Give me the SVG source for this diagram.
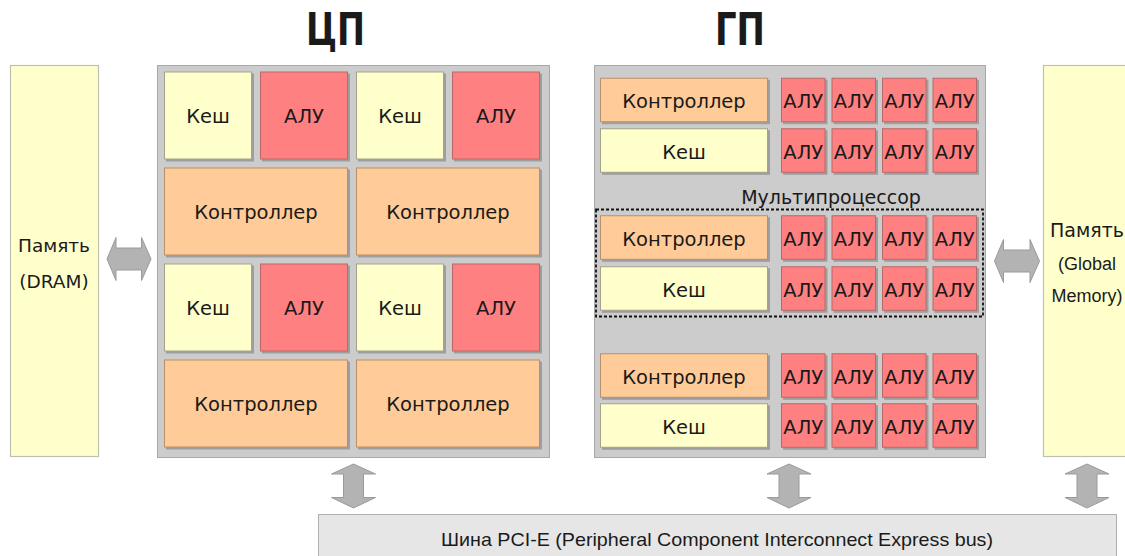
<svg xmlns="http://www.w3.org/2000/svg" width="1125" height="556" viewBox="0 0 1125 556">
<defs>
<filter id="sh" x="-10%" y="-10%" width="130%" height="130%">
<feDropShadow dx="2" dy="2" stdDeviation="0.6" flood-color="#8a8a8a" flood-opacity="0.7"/>
</filter>
<style>
.blk{fill:#cccccc;stroke:#a8a8a8;stroke-width:1}
.mem{fill:#ffffcc;stroke:#c0c0b0;stroke-width:1.2}
.k{fill:#ffffcc;stroke:#a3a38a;stroke-width:1;filter:url(#sh)}
.a{fill:#ff8080;stroke:#b86a6a;stroke-width:1;filter:url(#sh)}
.c{fill:#ffcc99;stroke:#b8906a;stroke-width:1;filter:url(#sh)}
.t{font-family:"DejaVu Sans",sans-serif;font-size:19.5px;fill:#1a1a1a;text-anchor:middle}
.ta{font-family:"DejaVu Sans",sans-serif;font-size:19.5px;fill:#1a1a1a;text-anchor:middle}
.m{font-family:"DejaVu Sans",sans-serif;font-size:18.5px;fill:#1a1a1a;text-anchor:middle}
.ar{font-family:"Liberation Sans",Arial,sans-serif;font-size:18px;fill:#1a1a1a;text-anchor:middle}
.ttl{font-family:"DejaVu Sans",sans-serif;font-weight:bold;font-size:44px;fill:#1a1a1a;text-anchor:middle}
.arrow{fill:#b3b3b3;stroke:#9a9a9a;stroke-width:1}
</style>
</defs>
<rect width="1125" height="556" fill="#ffffff"/>

<g id="titles">
<text class="ttl" x="335.5" y="45" textLength="59" lengthAdjust="spacingAndGlyphs">ЦП</text>
<text class="ttl" x="740" y="45" textLength="50" lengthAdjust="spacingAndGlyphs">ГП</text>
</g>

<g id="mem-dram">
<rect class="mem" x="10.5" y="65.5" width="88" height="391"/>
<text class="m" x="54" y="252">Память</text>
<text class="m" x="54" y="288">(DRAM)</text>
</g>

<g id="mem-global">
<rect class="mem" x="1043.5" y="65.5" width="88" height="391"/>
<text class="t" x="1087" y="237" style="font-size:19px">Память</text>
<text class="ar" x="1087" y="270">(Global</text>
<text class="ar" x="1087" y="302">Memory)</text>
</g>

<g id="cpu">
<rect class="blk" x="157.5" y="65.5" width="392" height="392"/>
<g id="cpu-k1"><rect class="k" x="164.5" y="72" width="87" height="87"/><text class="t" x="208" y="122.5">Кеш</text></g>
<g id="cpu-a1"><rect class="a" x="260.5" y="72" width="87" height="87"/><text class="t" x="304" y="122.5">АЛУ</text></g>
<g id="cpu-k2"><rect class="k" x="356.5" y="72" width="87" height="87"/><text class="t" x="400" y="122.5">Кеш</text></g>
<g id="cpu-a2"><rect class="a" x="452.5" y="72" width="87" height="87"/><text class="t" x="496" y="122.5">АЛУ</text></g>
<g id="cpu-c1"><rect class="c" x="164.5" y="168" width="183" height="87"/><text class="t" x="256" y="218.5">Контроллер</text></g>
<g id="cpu-c2"><rect class="c" x="356.5" y="168" width="183" height="87"/><text class="t" x="448" y="218.5">Контроллер</text></g>
<g id="cpu-k3"><rect class="k" x="164.5" y="264" width="87" height="87"/><text class="t" x="208" y="314.5">Кеш</text></g>
<g id="cpu-a3"><rect class="a" x="260.5" y="264" width="87" height="87"/><text class="t" x="304" y="314.5">АЛУ</text></g>
<g id="cpu-k4"><rect class="k" x="356.5" y="264" width="87" height="87"/><text class="t" x="400" y="314.5">Кеш</text></g>
<g id="cpu-a4"><rect class="a" x="452.5" y="264" width="87" height="87"/><text class="t" x="496" y="314.5">АЛУ</text></g>
<g id="cpu-c3"><rect class="c" x="164.5" y="360" width="183" height="87"/><text class="t" x="256" y="410.5">Контроллер</text></g>
<g id="cpu-c4"><rect class="c" x="356.5" y="360" width="183" height="87"/><text class="t" x="448" y="410.5">Контроллер</text></g>
</g>

<g id="gpu">
<rect class="blk" x="594.5" y="65.5" width="391" height="392"/>
<text class="t" x="831" y="204" style="font-size:19px">Мультипроцессор</text>
<rect x="596" y="209.5" width="387" height="107" fill="none" stroke="#111" stroke-width="1.8" stroke-dasharray="3,2"/>

<g id="gpu-c1"><rect class="c" x="600.5" y="78.25" width="167" height="43.5"/><text class="t" x="684" y="108">Контроллер</text></g>
<g id="gpu-k1"><rect class="k" x="600.5" y="128.75" width="167" height="43.5"/><text class="t" x="684" y="158.5">Кеш</text></g>
<g id="gpu-a1">
<rect class="a" x="781.5" y="78.25" width="43.5" height="43.5"/><text class="ta" x="803.25" y="108">АЛУ</text>
<rect class="a" x="832" y="78.25" width="43.5" height="43.5"/><text class="ta" x="853.75" y="108">АЛУ</text>
<rect class="a" x="882.5" y="78.25" width="43.5" height="43.5"/><text class="ta" x="904.25" y="108">АЛУ</text>
<rect class="a" x="933" y="78.25" width="43.5" height="43.5"/><text class="ta" x="954.75" y="108">АЛУ</text>
<rect class="a" x="781.5" y="128.75" width="43.5" height="43.5"/><text class="ta" x="803.25" y="158.5">АЛУ</text>
<rect class="a" x="832" y="128.75" width="43.5" height="43.5"/><text class="ta" x="853.75" y="158.5">АЛУ</text>
<rect class="a" x="882.5" y="128.75" width="43.5" height="43.5"/><text class="ta" x="904.25" y="158.5">АЛУ</text>
<rect class="a" x="933" y="128.75" width="43.5" height="43.5"/><text class="ta" x="954.75" y="158.5">АЛУ</text>
</g>

<g id="gpu-c2"><rect class="c" x="600.5" y="215.75" width="167" height="43.5"/><text class="t" x="684" y="245.5">Контроллер</text></g>
<g id="gpu-k2"><rect class="k" x="600.5" y="266.75" width="167" height="43.5"/><text class="t" x="684" y="296.5">Кеш</text></g>
<g id="gpu-a2">
<rect class="a" x="781.5" y="215.75" width="43.5" height="43.5"/><text class="ta" x="803.25" y="245.5">АЛУ</text>
<rect class="a" x="832" y="215.75" width="43.5" height="43.5"/><text class="ta" x="853.75" y="245.5">АЛУ</text>
<rect class="a" x="882.5" y="215.75" width="43.5" height="43.5"/><text class="ta" x="904.25" y="245.5">АЛУ</text>
<rect class="a" x="933" y="215.75" width="43.5" height="43.5"/><text class="ta" x="954.75" y="245.5">АЛУ</text>
<rect class="a" x="781.5" y="266.75" width="43.5" height="43.5"/><text class="ta" x="803.25" y="296.5">АЛУ</text>
<rect class="a" x="832" y="266.75" width="43.5" height="43.5"/><text class="ta" x="853.75" y="296.5">АЛУ</text>
<rect class="a" x="882.5" y="266.75" width="43.5" height="43.5"/><text class="ta" x="904.25" y="296.5">АЛУ</text>
<rect class="a" x="933" y="266.75" width="43.5" height="43.5"/><text class="ta" x="954.75" y="296.5">АЛУ</text>
</g>

<g id="gpu-c3"><rect class="c" x="600.5" y="353.75" width="167" height="43.5"/><text class="t" x="684" y="383.5">Контроллер</text></g>
<g id="gpu-k3"><rect class="k" x="600.5" y="403.75" width="167" height="43.5"/><text class="t" x="684" y="433.5">Кеш</text></g>
<g id="gpu-a3">
<rect class="a" x="781.5" y="353.75" width="43.5" height="43.5"/><text class="ta" x="803.25" y="383.5">АЛУ</text>
<rect class="a" x="832" y="353.75" width="43.5" height="43.5"/><text class="ta" x="853.75" y="383.5">АЛУ</text>
<rect class="a" x="882.5" y="353.75" width="43.5" height="43.5"/><text class="ta" x="904.25" y="383.5">АЛУ</text>
<rect class="a" x="933" y="353.75" width="43.5" height="43.5"/><text class="ta" x="954.75" y="383.5">АЛУ</text>
<rect class="a" x="781.5" y="403.75" width="43.5" height="43.5"/><text class="ta" x="803.25" y="433.5">АЛУ</text>
<rect class="a" x="832" y="403.75" width="43.5" height="43.5"/><text class="ta" x="853.75" y="433.5">АЛУ</text>
<rect class="a" x="882.5" y="403.75" width="43.5" height="43.5"/><text class="ta" x="904.25" y="433.5">АЛУ</text>
<rect class="a" x="933" y="403.75" width="43.5" height="43.5"/><text class="ta" x="954.75" y="433.5">АЛУ</text>
</g>
</g>

<g id="bus">
<rect x="318.5" y="514.5" width="798" height="60" fill="#e6e6e6" stroke="#b0b0b0" stroke-width="1"/>
<text class="ar" x="717" y="545.5" style="font-size:18.5px" textLength="552" lengthAdjust="spacingAndGlyphs">Шина PCI-E (Peripheral Component Interconnect Express bus)</text>
</g>

<g id="connectors">
<polygon class="arrow" points="107,259 116,237.5 116,248 141.5,248 141.5,237.5 151,259 141.5,280.5 141.5,270 116,270 116,280.5"/>
<polygon class="arrow" points="994.5,261 1003.5,239.5 1003.5,250 1030,250 1030,239.5 1039.5,261 1030,282.5 1030,272 1003.5,272 1003.5,282.5"/>
<polygon class="arrow" points="353.5,464 375.5,474 363.5,474 363.5,497.5 375.5,497.5 353.5,508 331.5,497.5 343.5,497.5 343.5,474 331.5,474"/>
<polygon class="arrow" points="789,464 811,474 799,474 799,497.5 811,497.5 789,508 767,497.5 779,497.5 779,474 767,474"/>
<polygon class="arrow" points="1087,464 1109,474 1097,474 1097,497.5 1109,497.5 1087,508 1065,497.5 1077,497.5 1077,474 1065,474"/>
</g>
</svg>
